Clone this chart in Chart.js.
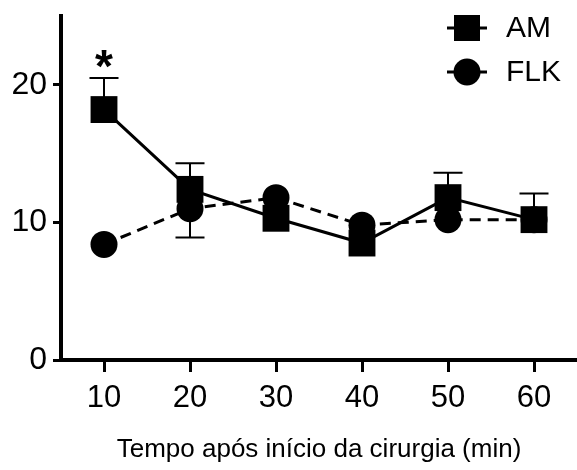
<!DOCTYPE html>
<html><head><meta charset="utf-8">
<script src="https://cdn.jsdelivr.net/npm/chart.js@4/dist/chart.umd.min.js"></script>
<style>html,body{margin:0;padding:0;background:#fff}#wrap{width:577px;height:470px}</style>
</head><body><div id="wrap"><canvas id="c" width="577" height="470"></canvas></div>
<script>
const times = [10, 20, 30, 40, 50, 60];
const amMean = [18.2, 12.4, 10.3, 8.5, 11.8, 10.2];
const amErr = [2.3, 1.9, 0, 0, 1.8, 1.9];
const flkMean = [8.4, 11.0, 11.8, 9.8, 10.2, 10.2];
const flkErr = [0, 2.1, 0, 0, 0, 0];
const xTicks = [10, 20, 30, 40, 50, 60];
const yTicks = [0, 10, 20];
const signif = ['*', '', '', '', '', ''];
const seriesNames = ['AM', 'FLK'];
const xTitle = 'Tempo após início da cirurgia (min)';

const FONT = '"Liberation Sans", Arial, sans-serif';

const extras = {
  id: 'extras',
  beforeDatasetsDraw(chart) {
    const {ctx, scales: {x, y}} = chart;
    ctx.save();
    ctx.strokeStyle = '#000';
    ctx.lineWidth = 2;
    const draw = (means, errs, dir) => {
      means.forEach((m, i) => {
        if (!errs[i]) return;
        const px = x.getPixelForValue(times[i]);
        const p0 = y.getPixelForValue(m);
        const p1 = y.getPixelForValue(m + dir * errs[i]);
        ctx.beginPath();
        ctx.moveTo(px, p0); ctx.lineTo(px, p1);
        ctx.moveTo(px - 14.5, p1); ctx.lineTo(px + 14.5, p1);
        ctx.stroke();
      });
    };
    draw(amMean, amErr, 1);
    draw(flkMean, flkErr, -1);
    ctx.restore();
  },
  afterDatasetsDraw(chart) {
    const {ctx, scales: {x, y}} = chart;
    ctx.save();
    ctx.fillStyle = '#000';
    ctx.font = 'bold 46px ' + FONT;
    ctx.textAlign = 'center';
    ctx.textBaseline = 'middle';
    signif.forEach((s, i) => {
      if (!s) return;
      const px = x.getPixelForValue(times[i]);
      const py = y.getPixelForValue(amMean[i] + amErr[i]);
      ctx.fillText(s, px, py - 9);
    });
    // legend
    const lx = 467, items = [{y: 28, shape: 'square', name: seriesNames[0]}, {y: 72, shape: 'circle', name: seriesNames[1]}];
    items.forEach(it => {
      ctx.lineWidth = 3;
      ctx.strokeStyle = '#000';
      ctx.beginPath();
      ctx.moveTo(lx - 20, it.y); ctx.lineTo(lx + 20, it.y);
      ctx.stroke();
      ctx.beginPath();
      if (it.shape === 'square') ctx.rect(lx - 13, it.y - 13, 26, 26);
      else ctx.arc(lx, it.y, 13.5, 0, Math.PI * 2);
      ctx.fill();
      ctx.font = '30px ' + FONT;
      ctx.textAlign = 'left';
      ctx.fillText(it.name, 506, it.y + 1);
    });
    ctx.restore();
  }
};

new Chart(document.getElementById('c'), {
  type: 'line',
  data: {
    datasets: [
      {
        label: seriesNames[0],
        data: times.map((t, i) => ({x: t, y: amMean[i]})),
        borderColor: '#000', backgroundColor: '#000',
        borderWidth: 3, pointStyle: 'rect', pointRadius: 19, pointHoverRadius: 19,
        pointBorderWidth: 0, tension: 0
      },
      {
        label: seriesNames[1],
        data: times.map((t, i) => ({x: t, y: flkMean[i]})),
        borderColor: '#000', backgroundColor: '#000',
        borderWidth: 3, borderDash: [11, 7], pointStyle: 'circle', pointRadius: 13.5, pointHoverRadius: 13.5,
        pointBorderWidth: 0, tension: 0
      }
    ]
  },
  options: {
    responsive: false, animation: false, devicePixelRatio: 1,
    layout: {autoPadding: false, padding: {top: 16, right: 0, left: 0, bottom: 0}},
    plugins: {legend: {display: false}, tooltip: {enabled: false}},
    scales: {
      x: {
        type: 'linear', min: 5, max: 65,
        afterBuildTicks: s => { s.ticks = xTicks.map(v => ({value: v})); },
        afterFit: s => { s.height = 110; s.paddingLeft = 0; s.paddingRight = 0; },
        grid: {display: true, drawOnChartArea: false, drawTicks: true, tickLength: 12, color: '#000', lineWidth: 3},
        border: {display: true, color: '#000', width: 4},
        ticks: {color: '#000', font: {family: FONT, size: 31}, padding: 8, maxRotation: 0},
        title: {display: true, text: xTitle, color: '#000', font: {family: FONT, size: 26}, padding: {top: 0, bottom: 5}}
      },
      y: {
        type: 'linear', min: 0, max: 25,
        afterBuildTicks: s => { s.ticks = yTicks.map(v => ({value: v})); },
        afterFit: s => { s.width = 61; s.paddingTop = 0; s.paddingBottom = 0; },
        grid: {display: true, drawOnChartArea: false, drawTicks: true, tickLength: 8, color: '#000', lineWidth: 3},
        border: {display: true, color: '#000', width: 4},
        ticks: {color: '#000', font: {family: FONT, size: 32}, padding: 6}
      }
    }
  },
  plugins: [extras]
});
</script>
</body></html>
